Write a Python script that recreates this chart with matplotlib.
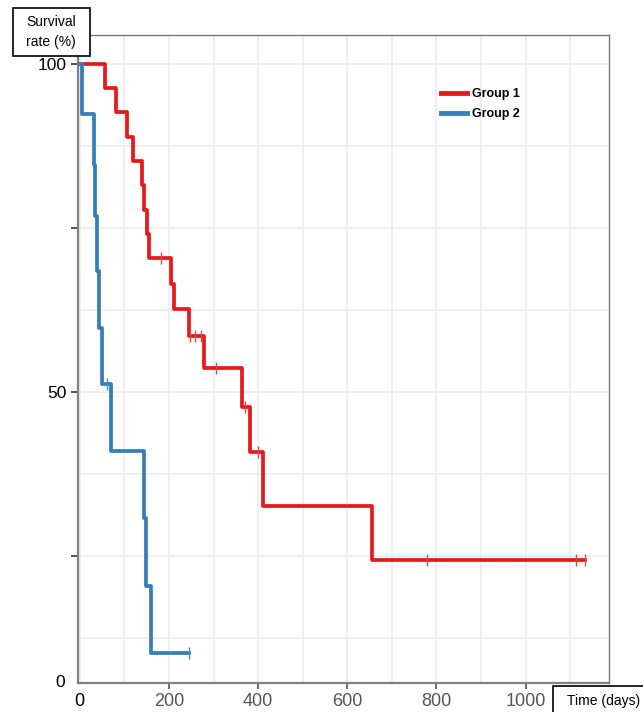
import matplotlib.pyplot as plt
import matplotlib.patches as mpatches
import numpy as np

plt.rcParams['font.family'] = ['Liberation Sans', 'DejaVu Sans']

# Kaplan-Meier curves (days, survival %)
g1_times = [0, 57, 82, 106, 119, 139, 145, 151, 156, 205, 211, 244, 279, 364, 382, 411, 655, 1133]
g1_surv = [100, 96.3, 92.6, 88.9, 85.2, 81.5, 77.8, 74.1, 70.4, 66.5, 62.6, 58.6, 53.7, 47.7, 40.9, 32.6, 24.4, 24.4]
g1_cens_t = [182, 247, 259, 272, 306, 371, 400, 780, 1113, 1133]

g2_times = [0, 5, 32, 35, 38, 42, 50, 71, 145, 149, 159, 246]
g2_surv = [100, 92.3, 84.6, 76.9, 68.4, 59.8, 51.3, 41.0, 30.8, 20.5, 10.3, 10.3]
g2_cens_t = [62, 246]

red = '#e41a1c'
blue = '#377eb8'


def surv_at(times, surv, t):
    idx = np.searchsorted(times, t, side='right') - 1
    return surv[idx]


fig = plt.figure(figsize=(6.43, 7.12), dpi=100)
ax = fig.add_axes([0.122, 0.041, 0.8256, 0.9098])

ax.step(g1_times, g1_surv, where='post', color=red, lw=2.7, label='Group 1', zorder=3)
ax.step(g2_times, g2_surv, where='post', color=blue, lw=2.7, label='Group 2', zorder=3)

# censoring marks
ax.plot(g1_cens_t, [surv_at(g1_times, g1_surv, t) for t in g1_cens_t], ls='none',
        marker='|', ms=8, mew=1, color='#d84a4a', zorder=4)
ax.plot(g2_cens_t, [surv_at(g2_times, g2_surv, t) for t in g2_cens_t], ls='none',
        marker='|', ms=8, mew=1, color='#4a86bb', zorder=4)

ax.set_xlim(-3, 1188)
ax.set_ylim(5.7, 104.4)

ax.set_xticks([0, 200, 400, 600, 800, 1000])
ax.set_xticks(np.arange(0, 1200, 100), minor=True)
ax.set_yticks([25, 50, 75, 100])
ax.set_yticklabels(['', '50', '', '100'])
ax.set_yticks(np.arange(12.5, 101, 12.5), minor=True)

ax.grid(True, which='both', color='#eaecf0', lw=1.2, zorder=0)
ax.tick_params(axis='both', which='minor', length=0)
ax.tick_params(axis='y', which='major', length=5, width=1.2, labelsize=12.5, colors='#333333', labelcolor='black')
ax.tick_params(axis='x', which='major', length=4, width=1.2, labelsize=13, colors='#555555', labelcolor='#555555')
ax.get_xticklabels()[0].set_color('black')
ax.xaxis.get_major_ticks()[0].tick1line.set_visible(False)

for side in ['left', 'bottom']:
    ax.spines[side].set_color('#808080')
    ax.spines[side].set_linewidth(1.6)
for side in ['top', 'right']:
    ax.spines[side].set_color('#777777')
    ax.spines[side].set_linewidth(1.0)

ax.text(-0.025, 0.0, '0', transform=ax.transAxes, ha='right', va='center', fontsize=12.5)

ax.legend(loc='upper left', bbox_to_anchor=(441 / 643, 1 - 88 / 712), bbox_transform=fig.transFigure,
          frameon=False, prop={'weight': 'bold', 'size': 9}, handlelength=2.1, handletextpad=0.35,
          borderpad=0, borderaxespad=0, labelspacing=0.65)
for line in ax.get_legend().get_lines():
    line.set_linewidth(3.5)

# boxed axis titles
fig.patches.append(mpatches.Rectangle((13 / 643, 1 - 56 / 712), 77 / 643, 48 / 712,
                                      transform=fig.transFigure, fc='white', ec='black', lw=1.2))
fig.text(51 / 643, 1 - 32 / 712, 'Survival\nrate (%)', ha='center', va='center', fontsize=10, linespacing=1.5)
fig.patches.append(mpatches.Rectangle((553 / 643, 1 - 714 / 712), 95 / 643, 28 / 712,
                                      transform=fig.transFigure, fc='white', ec='black', lw=1.2))
fig.text(604 / 643, 1 - 701 / 712, 'Time (days)', ha='center', va='center', fontsize=10)

fig.savefig('out.png', dpi=100)
